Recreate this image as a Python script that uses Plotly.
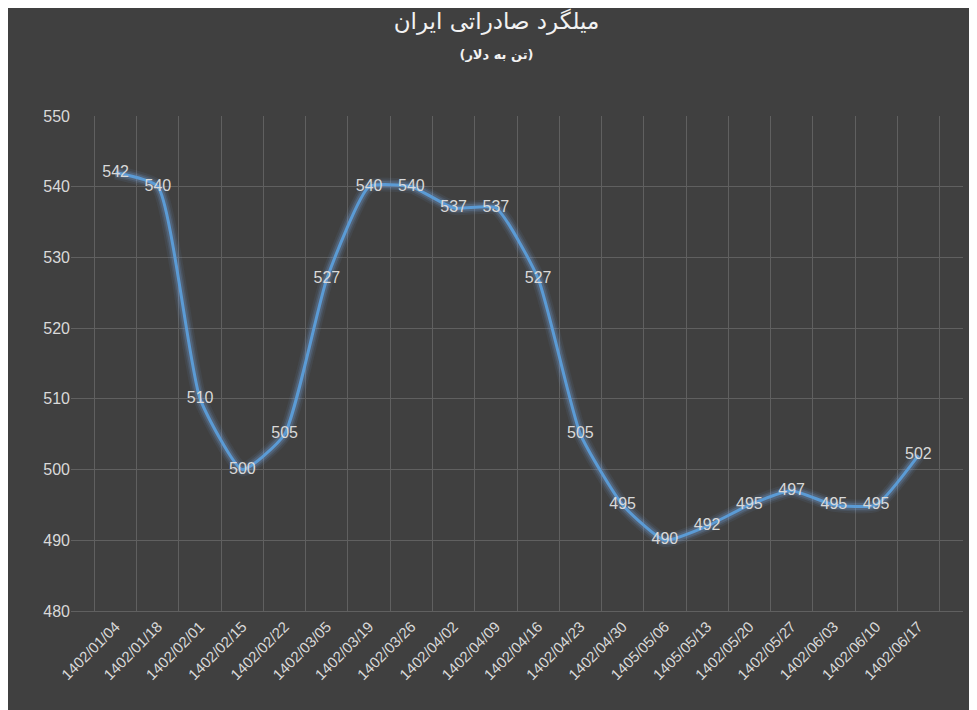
import plotly.graph_objects as go

dates = ["1402/01/04", "1402/01/18", "1402/02/01", "1402/02/15", "1402/02/22",
         "1402/03/05", "1402/03/19", "1402/03/26", "1402/04/02", "1402/04/09",
         "1402/04/16", "1402/04/23", "1402/04/30", "1405/05/06", "1405/05/13",
         "1402/05/20", "1402/05/27", "1402/06/03", "1402/06/10", "1402/06/17"]
prices = [542, 540, 510, 500, 505, 527, 540, 540, 537, 537,
          527, 505, 495, 490, 492, 495, 497, 495, 495, 502]

fig = go.Figure()
# glow under the line
for w, a in [(14, 0.08), (10, 0.12), (7, 0.2)]:
    fig.add_trace(go.Scatter(x=dates, y=prices, mode="lines",
                             line=dict(color=f"rgba(120,170,235,{a})", width=w, shape="spline", smoothing=0.5),
                             hoverinfo="skip"))
fig.add_trace(go.Scatter(x=dates, y=prices, mode="lines+text", text=[str(p) for p in prices],
                         textposition="middle center",
                         textfont=dict(color="#d9d9d9", size=16, family="Liberation Sans"),
                         line=dict(color="#5b9bd5", width=3, shape="spline", smoothing=0.5)))

fig.update_layout(
    width=977, height=710, showlegend=False,
    paper_bgcolor="#404040", plot_bgcolor="#404040",
    margin=dict(l=63, r=22, t=108, b=107),
    title=dict(text="میلگرد صادراتی ایران<br><span style='font-size:13px'><b>(تن به دلار)</b></span>",
               x=0.5, xanchor="center", y=0.97, yanchor="top",
               font=dict(color="#f2f2f2", size=23, family="DejaVu Sans")),
    xaxis=dict(type="category", tickson="boundaries", showgrid=True, gridcolor="#606060",
               tickangle=-45, tickfont=dict(color="#d9d9d9", size=15, family="Liberation Sans"),
               showline=True, linecolor="#606060", ticks="", automargin=False),
    yaxis=dict(range=[480, 550], dtick=10, showgrid=True, gridcolor="#606060",
               tickfont=dict(color="#d9d9d9", size=16, family="Liberation Sans"),
               zeroline=False, ticks="", automargin=False),
)
fig.write_html("out.html")
